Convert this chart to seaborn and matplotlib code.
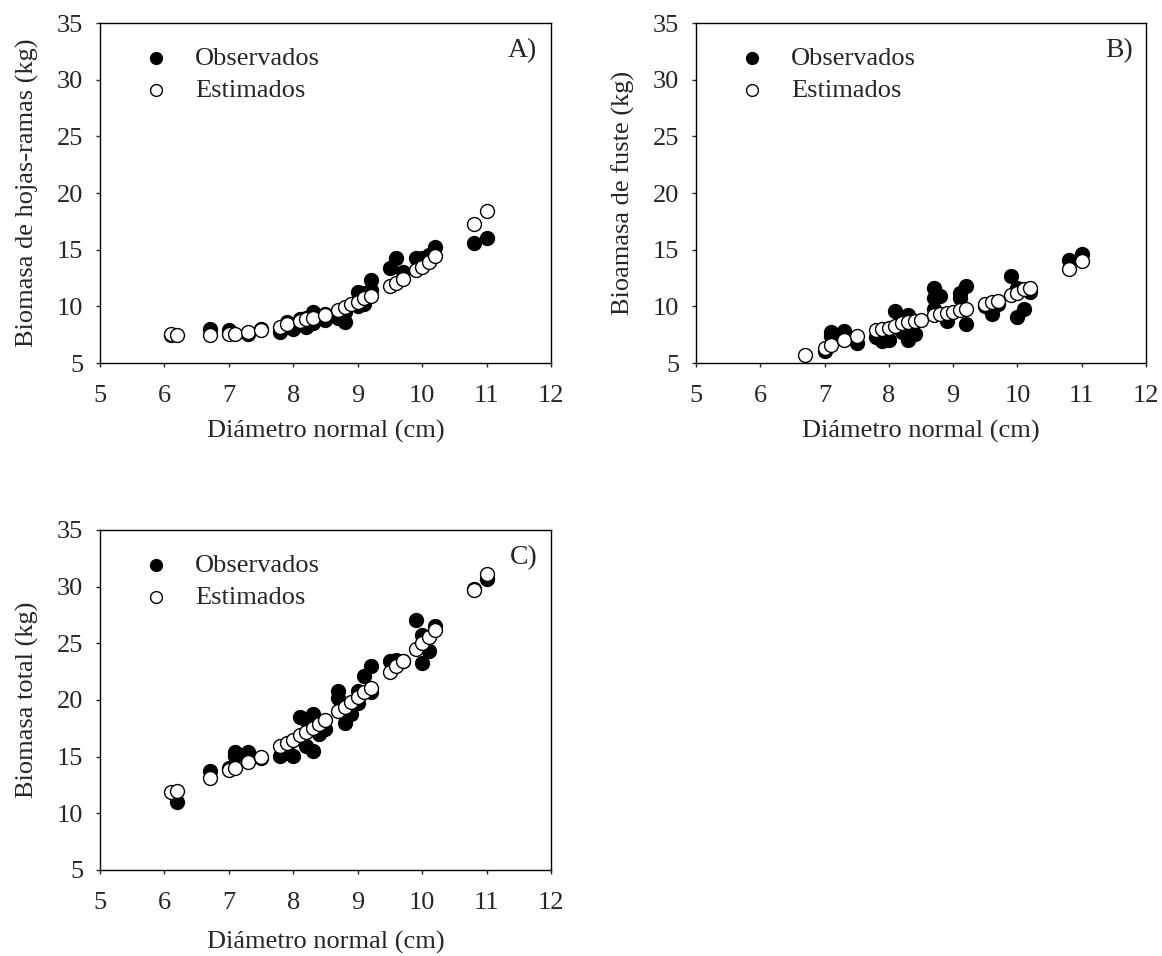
import matplotlib
matplotlib.use("Agg")
import matplotlib.pyplot as plt
import seaborn as sns
import pandas as pd

# ---------------- data ----------------
# Panel A: hojas-ramas
a_obs_x = [6.1, 6.7, 7.0, 7.3, 7.5, 7.8, 7.9, 8.0, 8.1, 8.2, 8.2, 8.3, 8.3, 8.5, 8.5, 8.7, 8.8, 8.8,
           9.0, 9.0, 9.1, 9.1, 9.2, 9.2, 9.5, 9.6, 9.7, 9.9, 10.0, 10.1, 10.2, 10.8, 11.0]
a_obs_y = [7.5, 8.0, 7.9, 7.6, 8.0, 7.7, 8.6, 8.0, 8.9, 8.2, 9.0, 9.5, 8.5, 8.8, 9.3, 9.0, 8.6, 9.5,
           11.3, 10.0, 10.2, 11.2, 12.3, 11.4, 13.4, 14.3, 13.0, 14.3, 14.3, 14.5, 15.2, 15.6, 16.0]
a_est_x = [6.1, 6.2, 6.7, 7.0, 7.1, 7.3, 7.5, 7.8, 7.9, 8.1, 8.2, 8.3, 8.5, 8.7, 8.8, 8.9, 9.0, 9.1, 9.2,
           9.5, 9.6, 9.7, 9.9, 10.0, 10.1, 10.2, 10.8, 11.0]
a_est_y = [7.6, 7.5, 7.5, 7.6, 7.6, 7.7, 7.9, 8.2, 8.4, 8.7, 8.9, 9.0, 9.2, 9.7, 9.9, 10.2, 10.4, 10.7, 10.9,
           11.8, 12.1, 12.4, 13.2, 13.5, 13.9, 14.4, 17.3, 18.4]

# Panel B: fuste
b_obs_x = [7.0, 7.1, 7.1, 7.3, 7.5, 7.8, 7.9, 8.0, 8.1, 8.2, 8.2, 8.3, 8.3, 8.3, 8.4, 8.7, 8.7, 8.7,
           8.8, 8.9, 9.1, 9.1, 9.2, 9.2, 9.5, 9.6, 9.7, 9.9, 10.0, 10.0, 10.1, 10.2, 10.8, 11.0]
b_obs_y = [6.1, 7.7, 7.4, 7.8, 6.8, 7.3, 6.9, 7.0, 9.6, 7.7, 8.0, 9.2, 7.0, 7.8, 7.6, 11.6, 10.7, 9.8,
           10.9, 8.7, 10.7, 11.2, 11.8, 8.4, 10.0, 9.3, 10.2, 12.7, 11.6, 9.1, 9.8, 11.3, 14.1, 14.6]
b_est_x = [6.7, 7.0, 7.1, 7.3, 7.5, 7.8, 7.9, 8.0, 8.1, 8.2, 8.3, 8.4, 8.5, 8.7, 8.8, 8.9, 9.0, 9.1, 9.2,
           9.5, 9.6, 9.7, 9.9, 10.0, 10.1, 10.2, 10.8, 11.0]
b_est_y = [5.7, 6.3, 6.6, 7.0, 7.4, 7.9, 8.0, 8.1, 8.3, 8.5, 8.6, 8.7, 8.8, 9.2, 9.3, 9.4, 9.5, 9.7, 9.8,
           10.2, 10.4, 10.5, 11.0, 11.2, 11.5, 11.6, 13.3, 14.0]

# Panel C: total
c_obs_x = [6.2, 6.7, 7.0, 7.1, 7.1, 7.3, 7.5, 7.8, 7.9, 8.0, 8.1, 8.2, 8.2, 8.3, 8.3, 8.4, 8.5, 8.7, 8.7,
           8.8, 8.9, 9.0, 9.0, 9.1, 9.2, 9.2, 9.5, 9.6, 9.7, 9.9, 10.0, 10.0, 10.1, 10.2, 10.8, 11.0]
c_obs_y = [11.0, 13.7, 14.0, 15.4, 15.1, 15.4, 14.9, 15.1, 15.6, 15.1, 18.5, 15.9, 18.2, 18.8, 15.5, 17.0, 17.4,
           20.8, 20.2, 18.0, 18.8, 20.8, 19.7, 22.1, 23.0, 20.7, 23.4, 23.5, 23.4, 27.1, 23.3, 25.7, 24.3, 26.5,
           29.8, 30.7]
c_est_x = [6.1, 6.2, 6.7, 7.0, 7.1, 7.3, 7.5, 7.8, 7.9, 8.0, 8.1, 8.2, 8.3, 8.4, 8.5, 8.7, 8.8, 8.9, 9.0, 9.1,
           9.2, 9.5, 9.6, 9.7, 9.9, 10.0, 10.1, 10.2, 10.8, 11.0]
c_est_y = [11.9, 12.0, 13.1, 13.8, 14.0, 14.5, 15.0, 15.9, 16.2, 16.5, 16.9, 17.2, 17.5, 17.9, 18.2, 19.0,
           19.4, 19.8, 20.3, 20.7, 21.1, 22.5, 23.0, 23.4, 24.5, 25.0, 25.6, 26.2, 29.7, 31.1]

x_ticks = [5, 6, 7, 8, 9, 10, 11, 12]
y_ticks = [5, 10, 15, 20, 25, 30, 35]
x_label = "Diámetro normal (cm)"
y_labels = ["Biomasa de hojas-ramas (kg)", "Bioamasa de fuste (kg)", "Biomasa total (kg)"]
panel_tags = ["A)", "B)", "C)"]
legend_names = ["Observados", "Estimados"]

# ---------------- style ----------------
sns.set_style("ticks")
plt.rcParams["font.family"] = ["Liberation Serif", "DejaVu Serif"]
plt.rcParams["axes.linewidth"] = 1.0

W, H = 1162, 956
fig = plt.figure(figsize=(W / 100, H / 100), dpi=100)

def rect(l, t, r, b):
    return [l / W, 1 - b / H, (r - l) / W, (b - t) / H]

axA = fig.add_axes(rect(100, 23, 551, 363))
axB = fig.add_axes(rect(696, 23, 1146, 363))
axC = fig.add_axes(rect(100, 530, 551, 870))

panels = [
    (axA, a_obs_x, a_obs_y, a_est_x, a_est_y),
    (axB, b_obs_x, b_obs_y, b_est_x, b_est_y),
    (axC, c_obs_x, c_obs_y, c_est_x, c_est_y),
]

FS = 19
for i, (ax, ox, oy, ex, ey) in enumerate(panels):
    dfo = pd.DataFrame({"x": ox, "y": oy})
    dfe = pd.DataFrame({"x": ex, "y": ey})
    sns.scatterplot(data=dfo, x="x", y="y", ax=ax, color="black", edgecolor="black",
                    s=100, linewidth=1.0, label=legend_names[0], zorder=3)
    sns.scatterplot(data=dfe, x="x", y="y", ax=ax, color="white", edgecolor="black",
                    s=100, linewidth=1.0, label=legend_names[1], zorder=4)
    ax.set_xlim(5, 12)
    ax.set_ylim(5, 35)
    ax.set_xticks(x_ticks)
    ax.set_yticks(y_ticks)
    ax.tick_params(axis="both", labelsize=FS, direction="out", length=3, width=1,
                   top=False, right=False)
    ax.tick_params(axis="x", pad=13)
    ax.tick_params(axis="y", pad=9)
    ax.set_xlabel(x_label, fontsize=FS, labelpad=12 if i == 2 else 9)
    ax.set_ylabel(y_labels[i], fontsize=FS, labelpad=13)
    for sp in ax.spines.values():
        sp.set_visible(True)
        sp.set_color("black")
    ax.text(0.97, 0.955, panel_tags[i], transform=ax.transAxes, ha="right", va="top",
            fontsize=FS + 1)
    ax.legend(loc="upper left", frameon=False, fontsize=FS, handlelength=1.0,
              handletextpad=1.0, borderaxespad=0.1, labelspacing=0.33,
              markerscale=0.85, bbox_to_anchor=(0.065, 0.97))

fig.savefig("out.png", dpi=100)
